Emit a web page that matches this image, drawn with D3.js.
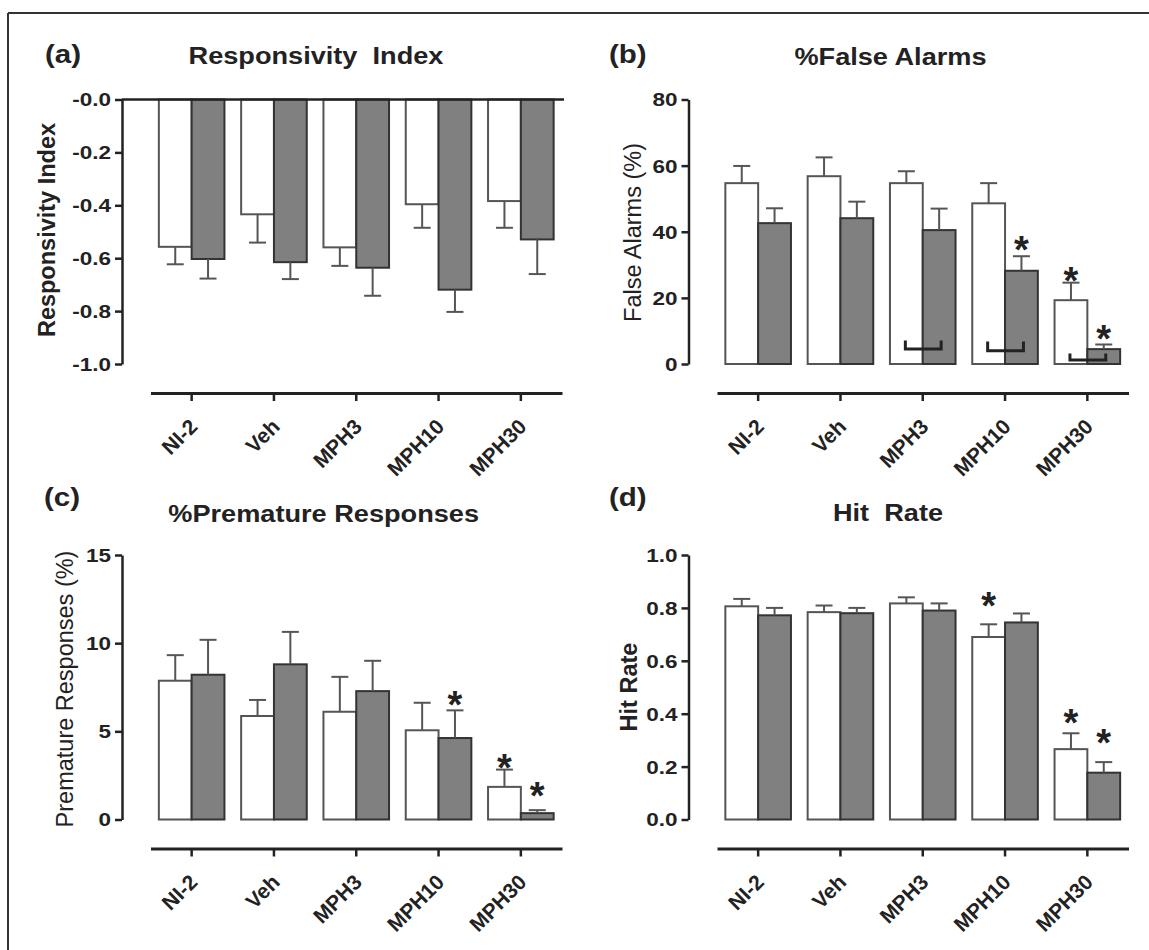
<!DOCTYPE html>
<html><head><meta charset="utf-8">
<script src="https://cdn.jsdelivr.net/npm/d3@7"></script>
<style>
body{margin:0;background:#fff}
svg{display:block}
text{font-family:"Liberation Sans", Arial, Helvetica, sans-serif}
</style>
</head><body>
<svg id="chart" width="1149" height="950"></svg>
<script>
// ---------- data ----------
const categories = ["NI-2", "Veh", "MPH3", "MPH10", "MPH30"];
const series = ["open", "filled"];

// (a) Responsivity Index
const riOpen = [-0.557, -0.434, -0.559, -0.396, -0.384];
const riOpenSem = [0.066, 0.107, 0.070, 0.089, 0.101];
const riFilled = [-0.603, -0.615, -0.636, -0.719, -0.529];
const riFilledSem = [0.074, 0.064, 0.106, 0.084, 0.131];
const riTicks = [0, -0.2, -0.4, -0.6, -0.8, -1.0];

// (b) % False Alarms
const faOpen = [54.7, 56.8, 54.7, 48.6, 19.3];
const faOpenSem = [5.2, 5.7, 3.6, 6.1, 5.3];
const faFilled = [42.6, 44.1, 40.5, 28.2, 4.5];
const faFilledSem = [4.5, 5.0, 6.5, 4.4, 1.4];
const faTicks = [0, 20, 40, 60, 80];
const faStars = [["MPH10", "filled", 36.8], ["MPH30", "open", 27.5], ["MPH30", "filled", 10.1]];
const faBrackets = [["MPH3", 4.5, 7.1], ["MPH10", 4.0, 6.8], ["MPH30", 1.2, 3.2]];

// (c) % Premature Responses
const prOpen = [7.87, 5.87, 6.11, 5.06, 1.85];
const prOpenSem = [1.45, 0.91, 1.98, 1.56, 0.98];
const prFilled = [8.21, 8.80, 7.28, 4.62, 0.36];
const prFilledSem = [1.98, 1.84, 1.72, 1.57, 0.17];
const prTicks = [0, 5, 10, 15];
const prStars = [["MPH10", "filled", 6.93], ["MPH30", "open", 3.38], ["MPH30", "filled", 1.78]];

// (d) Hit Rate
const hrOpen = [0.806, 0.784, 0.817, 0.690, 0.266];
const hrOpenSem = [0.028, 0.025, 0.023, 0.048, 0.060];
const hrFilled = [0.772, 0.780, 0.790, 0.745, 0.177];
const hrFilledSem = [0.028, 0.020, 0.027, 0.034, 0.040];
const hrTicks = [0, 0.2, 0.4, 0.6, 0.8, 1.0];
const hrStars = [["MPH10", "open", 0.838], ["MPH30", "open", 0.395], ["MPH30", "filled", 0.32]];

// ---------- drawing ----------
const svg = d3.select("#chart");
const FONT = '"Liberation Sans", Arial, Helvetica, sans-serif';
const XS = 1.18;
const INK = "#222";

function stretch(sel, k) {
  sel.each(function () {
    const L = this.getComputedTextLength();
    d3.select(this).attr("textLength", L * k).attr("lengthAdjust", "spacingAndGlyphs");
  });
}

// frame
svg.append("line").attr("x1", 8).attr("x2", 1149).attr("y1", 13).attr("y2", 13)
  .attr("stroke", "#333").attr("stroke-width", 2);
svg.append("line").attr("x1", 8).attr("x2", 8).attr("y1", 13).attr("y2", 950)
  .attr("stroke", "#333").attr("stroke-width", 2);

function panel(cfg) {
  const g = svg.append("g").attr("transform", `translate(${cfg.ox},${cfg.oy})`);
  const y = d3.scaleLinear().domain(cfg.domain).range([364, 99.5]);
  const x = d3.scaleBand().domain(categories).range([150.5, 562]).padding(0);
  const bw = 32.8;
  const sub = d3.scaleBand().domain(series)
    .range([x.bandwidth() / 2 - bw, x.bandwidth() / 2 + bw]);

  const rows = [];
  categories.forEach((c, i) => {
    rows.push({ c, s: "open", v: cfg.open[i], e: cfg.openSem[i] });
    rows.push({ c, s: "filled", v: cfg.filled[i], e: cfg.filledSem[i] });
  });

  // bars
  g.append("g").selectAll("rect").data(rows).join("rect")
    .attr("x", d => x(d.c) + sub(d.s))
    .attr("width", sub.bandwidth())
    .attr("y", d => Math.min(y(0), y(d.v)))
    .attr("height", d => Math.abs(y(d.v) - y(0)))
    .attr("fill", d => d.s === "open" ? "#fff" : "#808080")
    .attr("stroke", d => d.s === "open" ? "#555" : "#333")
    .attr("stroke-width", 2);

  // error bars (outward only)
  const eg = g.append("g").attr("stroke", "#555").attr("stroke-width", 2);
  rows.forEach(d => {
    const cx = x(d.c) + sub(d.s) + sub.bandwidth() / 2;
    const sign = d.v < 0 ? -1 : 1;
    const yEnd = y(d.v + sign * d.e);
    eg.append("line").attr("x1", cx).attr("x2", cx).attr("y1", y(d.v)).attr("y2", yEnd);
    eg.append("line").attr("x1", cx - 8.5).attr("x2", cx + 8.5).attr("y1", yEnd).attr("y2", yEnd);
  });

  // zero line for negative panel
  if (cfg.zeroLine) {
    g.append("line").attr("x1", 122).attr("x2", 564).attr("y1", y(0)).attr("y2", y(0))
      .attr("stroke", INK).attr("stroke-width", 2.5);
  }

  // y axis
  const ya = g.append("g").attr("transform", "translate(122,0)")
    .call(d3.axisLeft(y).tickValues(cfg.ticks).tickFormat(cfg.fmt).tickSize(7).tickPadding(4).tickSizeOuter(0));
  ya.select(".domain").attr("stroke", INK).attr("stroke-width", 2.5);
  ya.selectAll(".tick line").attr("stroke", INK).attr("stroke-width", 2.5);
  ya.selectAll(".tick text").attr("font-family", FONT).attr("font-size", 18).attr("font-weight", "bold")
    .attr("fill", INK).attr("dy", "0.36em");
  stretch(ya.selectAll(".tick text"), 1.25);

  // x axis (offset)
  const xa = g.append("g").attr("transform", "translate(0,393)")
    .call(d3.axisBottom(x).tickSize(8).tickSizeOuter(0));
  xa.select(".domain").attr("stroke", INK).attr("stroke-width", 3);
  xa.selectAll(".tick line").attr("stroke", INK).attr("stroke-width", 2.5);
  xa.selectAll(".tick text").attr("font-family", FONT).attr("font-size", 21).attr("font-weight", "bold")
    .attr("fill", INK).attr("x", 0).attr("y", 0).attr("dy", 0)
    .attr("text-anchor", "end").attr("transform", "translate(7,35) rotate(-45)");

  // stars
  (cfg.stars || []).forEach(([c, s, v]) => {
    const cx = x(c) + sub(s) + sub.bandwidth() / 2;
    g.append("text").attr("x", cx).attr("y", y(v) + 21).attr("text-anchor", "middle")
      .attr("font-size", 38).attr("font-weight", "bold").attr("fill", INK).text("*");
  });

  // brackets
  (cfg.brackets || []).forEach(([c, lo, hi]) => {
    const x1 = x(c) + sub("open") + sub.bandwidth() / 2 - 1;
    const x2 = x(c) + sub("filled") + sub.bandwidth() / 2 + 2;
    g.append("path").attr("d", `M${x1},${y(hi)}V${y(lo)}H${x2}V${y(hi)}`)
      .attr("fill", "none").attr("stroke", INK).attr("stroke-width", 3);
  });

  // y label
  g.append("text").attr("transform", `translate(${cfg.ylx},${cfg.yly}) rotate(-90)`)
    .attr("text-anchor", "middle").attr("font-size", 23.5)
    .attr("font-weight", cfg.ylBold ? "bold" : "normal").attr("fill", INK).text(cfg.ylabel);

  // title
  const t = svg.append("text").attr("x", cfg.tx).attr("y", cfg.ty).attr("text-anchor", "middle")
    .attr("font-size", 23).attr("font-weight", "bold").attr("fill", INK)
    .style("white-space", "pre").text(cfg.title);
  stretch(t, XS);

  // panel letter
  const L = svg.append("text").attr("x", cfg.lx).attr("y", cfg.ly)
    .attr("font-size", 25).attr("font-weight", "bold").attr("fill", INK).text(cfg.letter);
  stretch(L, XS);
}

panel({
  ox: 0, oy: 0, domain: [-1, 0], ticks: riTicks,
  fmt: d => "-" + Math.abs(d).toFixed(1),
  open: riOpen, openSem: riOpenSem, filled: riFilled, filledSem: riFilledSem,
  zeroLine: true, ylabel: "Responsivity Index", ylBold: true, ylx: 54.5, yly: 230,
  title: "Responsivity  Index", tx: 316, ty: 64, letter: "(a)", lx: 45, ly: 63
});
panel({
  ox: 566.5, oy: 0, domain: [0, 80], ticks: faTicks, fmt: d => String(d),
  open: faOpen, openSem: faOpenSem, filled: faFilled, filledSem: faFilledSem,
  stars: faStars, brackets: faBrackets,
  ylabel: "False Alarms (%)", ylBold: false, ylx: 641 - 566.5, yly: 232.5,
  title: "%False Alarms", tx: 890.5, ty: 65, letter: "(b)", lx: 609, ly: 63
});
panel({
  ox: 0, oy: 455.5, domain: [0, 15], ticks: prTicks, fmt: d => String(d),
  open: prOpen, openSem: prOpenSem, filled: prFilled, filledSem: prFilledSem,
  stars: prStars,
  ylabel: "Premature Responses (%)", ylBold: false, ylx: 73, yly: 689 - 455.5,
  title: "%Premature Responses", tx: 323.7, ty: 521.5, letter: "(c)", lx: 44, ly: 506
});
panel({
  ox: 566.5, oy: 455.5, domain: [0, 1], ticks: hrTicks, fmt: d => d.toFixed(1),
  open: hrOpen, openSem: hrOpenSem, filled: hrFilled, filledSem: hrFilledSem,
  stars: hrStars,
  ylabel: "Hit Rate", ylBold: true, ylx: 636.5 - 566.5, yly: 687 - 455.5,
  title: "Hit  Rate", tx: 888, ty: 521, letter: "(d)", lx: 609, ly: 506
});
</script>
</body></html>
